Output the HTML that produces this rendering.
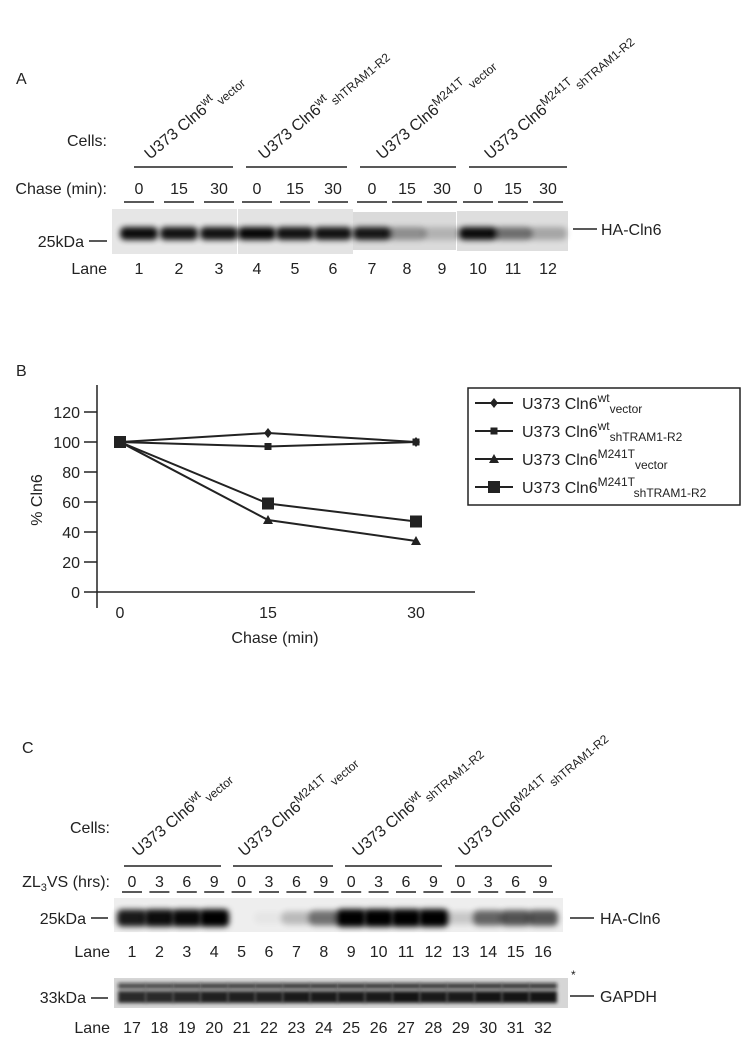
<!DOCTYPE html>
<html><head><meta charset="utf-8"><style>
html,body{margin:0;padding:0;background:#fff;}
svg{display:block;font-family:"Liberation Sans",Arial,sans-serif;}
</style></head><body>
<svg id="fig" width="748" height="1050" viewBox="0 0 748 1050">
<defs>
<filter id="blur" x="-50%" y="-150%" width="200%" height="400%"><feGaussianBlur stdDeviation="2.8"/></filter>
<filter id="blur2" x="-50%" y="-150%" width="200%" height="400%"><feGaussianBlur stdDeviation="1.8"/></filter>
</defs>

<!-- PANEL A -->
<g font-size="16" fill="#222">
<text x="16" y="84">A</text>
<text x="107" y="146" text-anchor="end">Cells:</text>
<text x="107" y="194" text-anchor="end">Chase (min):</text>
<text x="107" y="274" text-anchor="end">Lane</text>
<text x="84" y="247" text-anchor="end">25kDa</text>
<line x1="89" y1="241" x2="107" y2="241" stroke="#222" stroke-width="1.6"/>
<line x1="573" y1="229" x2="597" y2="229" stroke="#222" stroke-width="1.6"/>
<text x="601" y="235">HA-Cln6</text>
<g id="aGroups"></g>
<g id="aBlot"></g>
</g>

<!-- PANEL B -->
<g font-size="16" fill="#222">
<text x="16" y="376">B</text>
<text transform="translate(42,500) rotate(-90)" text-anchor="middle">% Cln6</text>
<text x="275" y="643" text-anchor="middle">Chase (min)</text>
<g id="bChart"></g>
<rect x="468" y="388" width="272" height="117" fill="none" stroke="#222" stroke-width="1.5"/>
<g id="legend"></g>
</g>

<!-- PANEL C -->
<g font-size="16" fill="#222">
<text x="22" y="753">C</text>
<text x="110" y="833" text-anchor="end">Cells:</text>
<text x="110" y="887" text-anchor="end">ZL<tspan font-size="11" dy="4">3</tspan><tspan dy="-4">VS (hrs):</tspan></text>
<text x="86" y="924" text-anchor="end">25kDa</text>
<line x1="91" y1="918" x2="108" y2="918" stroke="#222" stroke-width="1.6"/>
<text x="110" y="957" text-anchor="end">Lane</text>
<text x="86" y="1003" text-anchor="end">33kDa</text>
<line x1="91" y1="998" x2="108" y2="998" stroke="#222" stroke-width="1.6"/>
<text x="110" y="1033" text-anchor="end">Lane</text>
<line x1="570" y1="918" x2="594" y2="918" stroke="#222" stroke-width="1.6"/>
<text x="600" y="924">HA-Cln6</text>
<text x="571" y="979" font-size="12">*</text>
<line x1="570" y1="996" x2="594" y2="996" stroke="#222" stroke-width="1.6"/>
<text x="600" y="1002">GAPDH</text>
<g id="cGroups"></g>
<g id="cBlot"></g>
</g>
</svg>
<script>
// ---- data ----
const chaseTimes = [0, 15, 30];
const aIntensity = [0.95, 0.92, 0.92, 0.97, 0.92, 0.92, 0.9, 0.35, 0.18, 0.95, 0.5, 0.25];
const seriesWtVector = [100, 106, 100];
const seriesWtSh = [100, 97, 100];
const seriesMutVector = [100, 48, 34];
const seriesMutSh = [100, 59, 47];
const yTicks = [0, 20, 40, 60, 80, 100, 120];
const xTickLabels = ["0", "15", "30"];
const zlTimes = ["0", "3", "6", "9"];
const cIntensity = [0.85, 0.9, 0.92, 0.97, 0, 0.03, 0.2, 0.5, 1, 1, 1, 1, 0.15, 0.55, 0.62, 0.62];
const gapdhIntensity = [0.8, 0.8, 0.82, 0.85, 0.85, 0.85, 0.88, 0.88, 0.88, 0.88, 0.9, 0.88, 0.88, 0.9, 0.9, 0.9];

const NS = "http://www.w3.org/2000/svg";
function mk(tag, attrs, parent) {
  const e = document.createElementNS(NS, tag);
  for (const k in attrs) e.setAttribute(k, attrs[k]);
  parent.appendChild(e);
  return e;
}
function rotLabel(parent, x, y, sup, sub, name) {
  const t = mk("text", {transform: "translate(" + x + "," + y + ") rotate(-40)", "font-size": "16"}, parent);
  
  
  t.appendChild(document.createTextNode("U373 Cln6"));
  const s1 = mk("tspan", {"font-size": "12", dy: "-6"}, t); s1.textContent = sup;
  const s2 = mk("tspan", {"font-size": "12", dy: "10", dx: "2"}, t); s2.textContent = sub;
}

// ---- panel A ----
const aG = document.getElementById("aGroups");
const aB = document.getElementById("aBlot");
const aGroupX = [[134, 233], [246, 347], [360, 456], [469, 567]];
const aLabels = [["wt", "vector"], ["wt", "shTRAM1-R2"], ["M241T", "vector"], ["M241T", "shTRAM1-R2"]];
const aLaneStart = [139, 257, 372, 478];
const aSpace = [40, 38, 35, 35];
const aSec = [[112, 237, 209, 254, "#e6e6e6"], [238, 353, 209, 254, "#e3e3e3"], [353, 456, 212, 250, "#dadada"], [457, 568, 211, 251, "#dedede"]];
aSec.forEach((s, i) => {
  const r = mk("rect", {x: s[0], y: s[2], width: s[1] - s[0], height: s[3] - s[2], fill: s[4]}, aB);
  
  
});
aGroupX.forEach((g, gi) => {
  const l = mk("line", {x1: g[0], x2: g[1], y1: 167, y2: 167, stroke: "#222", "stroke-width": 1.5}, aG);
  
  
  rotLabel(aG, [150, 264, 382, 490][gi], 160, aLabels[gi][0], aLabels[gi][1], 'cell-label-a');
});
let lane = 0;
aGroupX.forEach((g, gi) => {
  for (let k = 0; k < 3; k++) {
    const x = aLaneStart[gi] + k * aSpace[gi];
    const t = mk("text", {x: x, y: 194, "text-anchor": "middle"}, aG);
    t.textContent = String(chaseTimes[k]);
    
    
    const l = mk("line", {x1: x - 15, x2: x + 15, y1: 202, y2: 202, stroke: "#222", "stroke-width": 1.5}, aG);
    
    
    const n = mk("text", {x: x, y: 274, "text-anchor": "middle"}, aG);
    n.textContent = String(lane + 1);
    
    
    const b = mk("rect", {x: x - 19, y: 227, width: 38, height: 13, rx: 5, fill: "#050505", opacity: aIntensity[lane], filter: "url(#blur)"}, aB);
    
    
    lane++;
  }
});

// ---- panel B ----
const bC = document.getElementById("bChart");
const xS = t => 120 + t * (296 / 30);
const yS = v => 592 - v * 1.5;
let e;
e = mk("line", {x1: 97, x2: 97, y1: 385, y2: 608, stroke: "#222", "stroke-width": 1.5}, bC);
 
e = mk("line", {x1: 97, x2: 475, y1: yS(0), y2: yS(0), stroke: "#222", "stroke-width": 1.5}, bC);
 
yTicks.forEach(v => {
  const l = mk("line", {x1: 84, x2: 97, y1: yS(v), y2: yS(v), stroke: "#222", "stroke-width": 1.5}, bC);
   
  const t = mk("text", {x: 80, y: yS(v) + 6, "text-anchor": "end"}, bC);
  t.textContent = String(v);
   
});
chaseTimes.forEach((c, i) => {
  const t = mk("text", {x: xS(c), y: 618, "text-anchor": "middle"}, bC);
  t.textContent = xTickLabels[i];
   
});
function marker(p, type, x, y) {
  let m;
  if (type === "diamond") m = mk("polygon", {points: `${x},${y-5} ${x+4},${y} ${x},${y+5} ${x-4},${y}`, fill: "#222"}, p);
  else if (type === "small") m = mk("rect", {x: x - 3.5, y: y - 3.5, width: 7, height: 7, fill: "#222"}, p);
  else if (type === "tri") m = mk("polygon", {points: `${x},${y-5} ${x+5},${y+4} ${x-5},${y+4}`, fill: "#222"}, p);
  else m = mk("rect", {x: x - 6, y: y - 6, width: 12, height: 12, fill: "#222"}, p);
  return m;
}
const series = [[seriesWtVector, "diamond", "wt-vector"], [seriesWtSh, "small", "wt-shtram1"], [seriesMutVector, "tri", "m241t-vector"], [seriesMutSh, "big", "m241t-shtram1"]];
series.forEach(s => {
  const pts = s[0].map((v, i) => xS(chaseTimes[i]) + "," + yS(v)).join(" ");
  const pl = mk("polyline", {points: pts, fill: "none", stroke: "#222", "stroke-width": 2}, bC);
  
  
  s[0].forEach((v, i) => {
    const m = marker(bC, s[1], xS(chaseTimes[i]), yS(v));
    
    
  });
});
const lg = document.getElementById("legend");
const legSup = ["wt", "wt", "M241T", "M241T"];
const legSub = ["vector", "shTRAM1-R2", "vector", "shTRAM1-R2"];
series.forEach((s, i) => {
  const y = 403 + i * 28;
  const l = mk("line", {x1: 475, x2: 513, y1: y, y2: y, stroke: "#222", "stroke-width": 2}, lg);
   
  const m = marker(lg, s[1], 494, y);
   
  const t = mk("text", {x: 522, y: y + 6, "font-size": "16"}, lg);
   
  t.appendChild(document.createTextNode("U373 Cln6"));
  const a = mk("tspan", {"font-size": "12", dy: "-7"}, t); a.textContent = legSup[i];
  const b = mk("tspan", {"font-size": "12", dy: "11"}, t); b.textContent = legSub[i];
});

// ---- panel C ----
const cG = document.getElementById("cGroups");
const cB = document.getElementById("cBlot");
const cGroupX = [[124, 221], [233, 333], [345, 442], [455, 552]];
const cLabels = [["wt", "vector"], ["M241T", "vector"], ["wt", "shTRAM1-R2"], ["M241T", "shTRAM1-R2"]];
e = mk("rect", {x: 114, y: 898, width: 449, height: 34, fill: "#eeeeee"}, cB);
 
e = mk("rect", {x: 114, y: 978, width: 454, height: 30, fill: "#d6d6d6"}, cB);
 
cGroupX.forEach((g, gi) => {
  const l = mk("line", {x1: g[0], x2: g[1], y1: 866, y2: 866, stroke: "#222", "stroke-width": 1.5}, cG);
   
  rotLabel(cG, [138, 244, 358, 464][gi], 857, cLabels[gi][0], cLabels[gi][1], 'cell-label-c');
});
for (let i = 0; i < 16; i++) {
  const x = 132 + i * 27.4;
  const t = mk("text", {x: x, y: 887, "text-anchor": "middle"}, cG);
  t.textContent = zlTimes[i % 4];
   
  const l = mk("line", {x1: x - 10, x2: x + 10, y1: 892, y2: 892, stroke: "#222", "stroke-width": 1.5}, cG);
   
  const n = mk("text", {x: x, y: 957, "text-anchor": "middle"}, cG);
  n.textContent = String(i + 1);
   
  const n2 = mk("text", {x: x, y: 1033, "text-anchor": "middle"}, cG);
  n2.textContent = String(i + 17);
   
  const hv = cIntensity[i];
  const b = mk("rect", {x: x - 15, y: 918 - 6 - hv * 3, width: 30, height: 12 + hv * 6, rx: 5, fill: "#050505", opacity: Math.min(1, hv * 1.05), filter: "url(#blur)"}, cB);
   
  const g1 = mk("rect", {x: x - 14, y: 983, width: 28, height: 6, fill: "#111", opacity: gapdhIntensity[i] * 0.85, filter: "url(#blur2)"}, cB);
   
  const g2 = mk("rect", {x: x - 14, y: 991, width: 28, height: 12, fill: "#050505", opacity: gapdhIntensity[i], filter: "url(#blur2)"}, cB);
   
}
</script>
</body></html>
